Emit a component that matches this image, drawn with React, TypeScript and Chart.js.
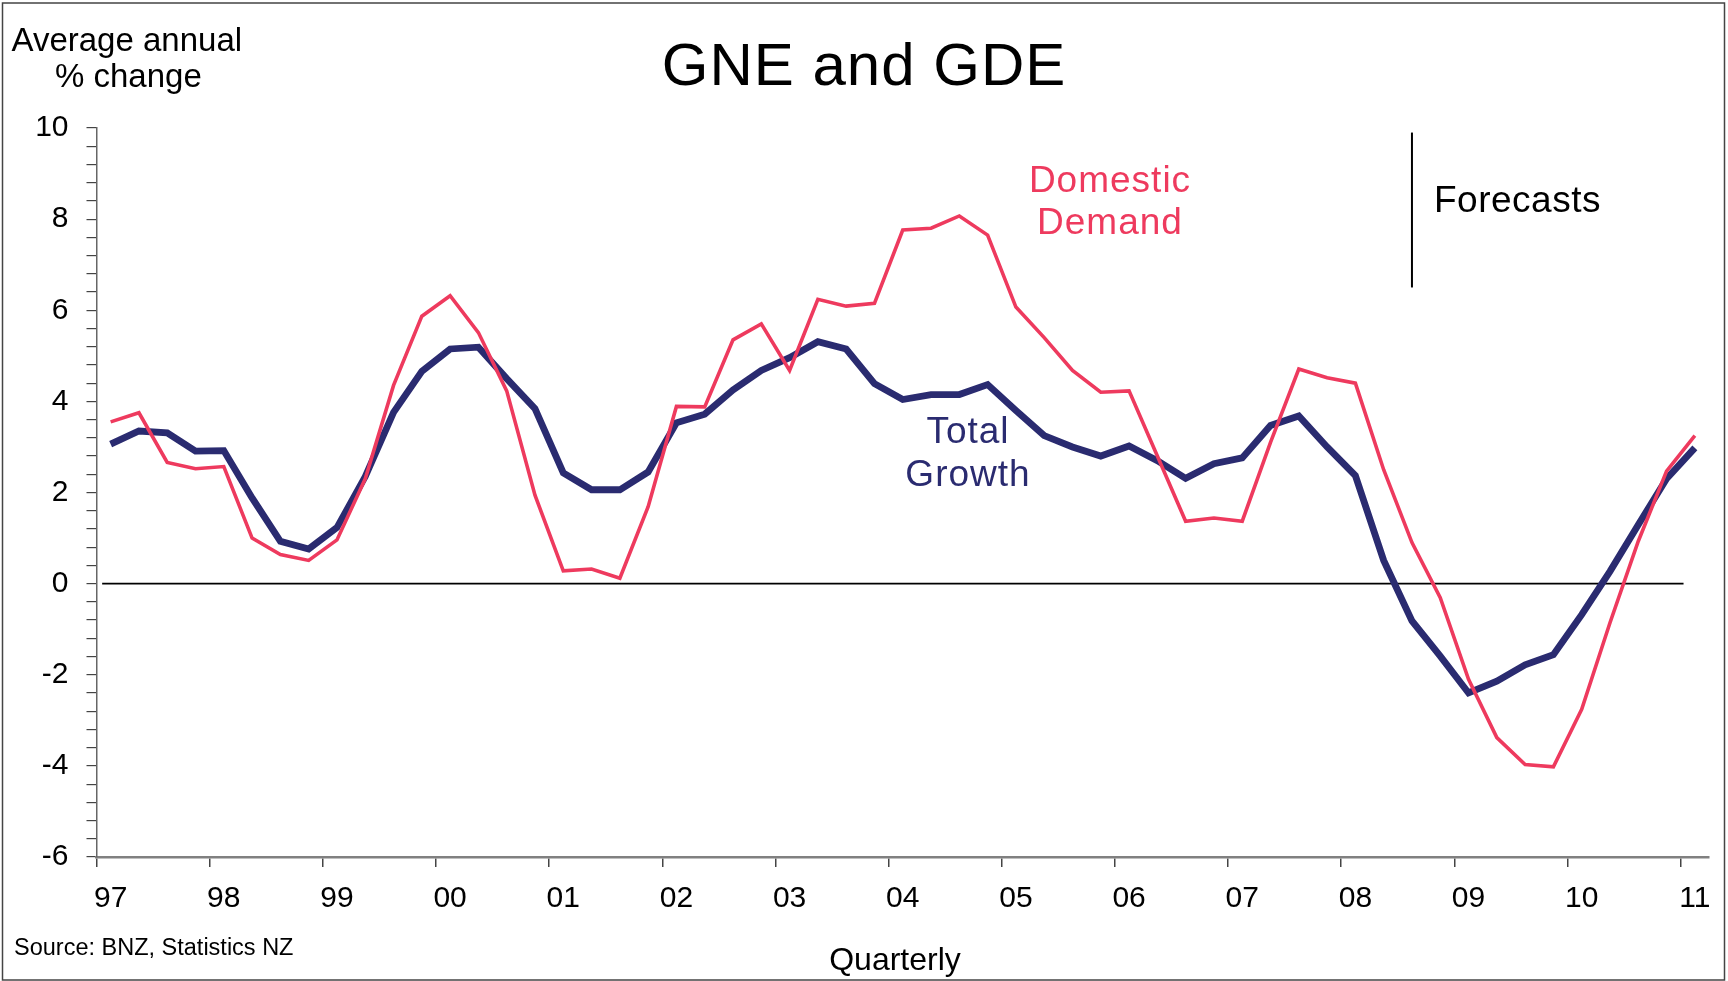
import React, { useEffect, useRef } from 'react';
import { Chart, registerables } from 'chart.js';

Chart.register(...registerables);

const FONT = "'Liberation Sans', Arial, Helvetica, sans-serif";
const RED = '#EE3A5E';
const NAVY = '#2A2B70';

// Year tick labels (one label every four quarters)
const yearLabels = ['97', '98', '99', '00', '01', '02', '03', '04', '05', '06', '07', '08', '09', '10', '11'];
const quarterNames = ['Mar', 'Jun', 'Sep', 'Dec'];

// Domestic Demand (GDE), average annual % change, quarterly Mar-97 .. Mar-11
const domesticDemand = [
  3.55, 3.75, 2.66, 2.52, 2.57, 1.0, 0.64, 0.51,
  0.96, 2.3, 4.35, 5.87, 6.32, 5.51, 4.23, 1.94,
  0.28, 0.32, 0.12, 1.69, 3.89, 3.88, 5.35, 5.7,
  4.68, 6.24, 6.09, 6.15, 7.76, 7.8, 8.07, 7.65,
  6.07, 5.4, 4.68, 4.2, 4.23, 2.8, 1.37, 1.44,
  1.37, 3.1, 4.71, 4.52, 4.4, 2.5, 0.9, -0.31,
  -2.1, -3.38, -3.97, -4.02, -2.76, -0.86, 0.93, 2.47,
  3.25,
];

// Total Growth (GNE), average annual % change
const totalGrowth = [
  3.06, 3.35, 3.31, 2.91, 2.92, 1.88, 0.93, 0.76,
  1.23, 2.35, 3.76, 4.66, 5.15, 5.19, 4.5, 3.84,
  2.43, 2.06, 2.06, 2.45, 3.53, 3.72, 4.25, 4.68,
  4.96, 5.31, 5.15, 4.39, 4.04, 4.15, 4.15, 4.37,
  3.8, 3.25, 3.0, 2.8, 3.02, 2.7, 2.31, 2.63,
  2.76, 3.47, 3.68, 3.0, 2.37, 0.51, -0.82, -1.59,
  -2.4, -2.14, -1.78, -1.56, -0.68, 0.27, 1.29, 2.3,
  2.98,
];

const yMin = -6;
const yMax = 10;
const yMinorStep = 0.4;
const yLabelStep = 2;
const forecastStartIndex = 46;

const quarters: string[] = [];
yearLabels.forEach((yr, k) => {
  const n = k === yearLabels.length - 1 ? 1 : 4;
  for (let q = 0; q < n; q++) quarters.push(`${quarterNames[q]} ${yr}`);
});

const annotationPlugin = {
  id: 'gneAnnotations',
  beforeDatasetsDraw(chart: any) {
    const { ctx, scales } = chart;
    const x = scales.x;
    const y = scales.y;
    ctx.save();
    // zero line
    const y0 = y.getPixelForValue(0);
    ctx.strokeStyle = '#000';
    ctx.lineWidth = 1.6;
    ctx.beginPath();
    ctx.moveTo(x.getPixelForValue(-0.3), y0);
    ctx.lineTo(x.getPixelForValue(55.6), y0);
    ctx.stroke();
    // forecast divider
    const xf = x.getPixelForValue(forecastStartIndex);
    ctx.lineWidth = 2;
    ctx.beginPath();
    ctx.moveTo(xf, y.getPixelForValue(9.9));
    ctx.lineTo(xf, y.getPixelForValue(6.5));
    ctx.stroke();
    ctx.restore();
  },
  afterDraw(chart: any) {
    const { ctx } = chart;
    ctx.save();
    const txt = (
      s: string,
      px: number,
      py: number,
      size: number,
      color: string,
      align: CanvasTextAlign = 'center',
      spacing = 0,
    ) => {
      ctx.font = `${size}px ${FONT}`;
      ctx.fillStyle = color;
      ctx.textAlign = align;
      ctx.textBaseline = 'alphabetic';
      (ctx as any).letterSpacing = `${spacing}px`;
      ctx.fillText(s, px, py);
      (ctx as any).letterSpacing = '0px';
    };
    txt('GNE and GDE', 864, 85, 60, '#000', 'center', 1);
    txt('Average annual', 11.5, 51, 33, '#000', 'left');
    txt('% change', 55, 87, 33, '#000', 'left');
    txt('Domestic', 1110, 192, 37, RED, 'center', 1);
    txt('Demand', 1110, 234, 37, RED, 'center', 1);
    txt('Total', 968, 443, 37, NAVY, 'center', 1);
    txt('Growth', 968, 486, 37, NAVY, 'center', 1);
    txt('Forecasts', 1434, 212, 37, '#000', 'left', 0.5);
    txt('Source: BNZ, Statistics NZ', 14, 955, 23.5, '#000', 'left');
    txt('Quarterly', 895, 970, 32, '#000');
    // outer frame
    ctx.strokeStyle = '#444';
    ctx.lineWidth = 1.5;
    ctx.strokeRect(2.5, 3, 1722, 977);
    ctx.restore();
  },
};

export default function App() {
  const canvasRef = useRef<HTMLCanvasElement | null>(null);

  useEffect(() => {
    const canvas = canvasRef.current;
    if (!canvas) return;
    const chart = new Chart(canvas, {
      type: 'line',
      data: {
        labels: quarters,
        datasets: [
          {
            label: 'Domestic Demand',
            data: domesticDemand,
            borderColor: RED,
            backgroundColor: RED,
            borderWidth: 3.6,
            pointRadius: 0,
            tension: 0,
            fill: false,
          },
          {
            label: 'Total Growth',
            data: totalGrowth,
            borderColor: NAVY,
            backgroundColor: NAVY,
            borderWidth: 6.8,
            pointRadius: 0,
            tension: 0,
            fill: false,
          },
        ],
      },
      options: {
        animation: false,
        responsive: false,
        maintainAspectRatio: false,
        devicePixelRatio: 1,
        layout: { padding: { top: 128, right: 19, left: 0, bottom: 0 } },
        plugins: {
          legend: { display: false },
          tooltip: { enabled: false },
          title: { display: false },
        },
        scales: {
          x: {
            type: 'category',
            offset: true,
            grid: {
              offset: true,
              drawOnChartArea: false,
              drawTicks: true,
              tickLength: 10,
              color: (c: any) => (c.index !== undefined && c.index % 4 === 0 ? '#444' : 'rgba(0,0,0,0)'),
              tickColor: (c: any) => (c.index !== undefined && c.index % 4 === 0 ? '#444' : 'rgba(0,0,0,0)'),
              lineWidth: 1.5,
            },
            border: { display: true, color: '#808080', width: 2.5 },
            ticks: {
              autoSkip: false,
              maxRotation: 0,
              minRotation: 0,
              padding: 14,
              color: '#000',
              font: { family: FONT, size: 30 },
              callback: (_v: any, i: number) => (i % 4 === 0 ? yearLabels[i / 4] : ''),
            },
            afterFit: (s: any) => {
              s.height = 124;
            },
          },
          y: {
            type: 'linear',
            min: yMin,
            max: yMax,
            grid: {
              drawOnChartArea: false,
              drawTicks: true,
              tickLength: 10,
              color: '#444',
              tickColor: '#444',
              lineWidth: 1.2,
            },
            border: { display: true, color: '#666', width: 1.5 },
            ticks: {
              stepSize: yMinorStep,
              autoSkip: false,
              padding: 18,
              color: '#000',
              font: { family: FONT, size: 30 },
              callback: (v: any) => {
                const n = Number(v);
                const r = n / yLabelStep;
                return Math.abs(r - Math.round(r)) < 1e-6 ? String(Math.round(n)) : '';
              },
            },
            afterFit: (s: any) => {
              s.width = 96.5;
            },
          },
        },
      },
      plugins: [annotationPlugin],
    });
    return () => chart.destroy();
  }, []);

  return (
    <div style={{ position: 'fixed', left: 0, top: 0, width: 1728, height: 981, background: '#fff' }}>
      <canvas ref={canvasRef} width={1728} height={981} style={{ display: 'block', width: 1728, height: 981 }} />
    </div>
  );
}
